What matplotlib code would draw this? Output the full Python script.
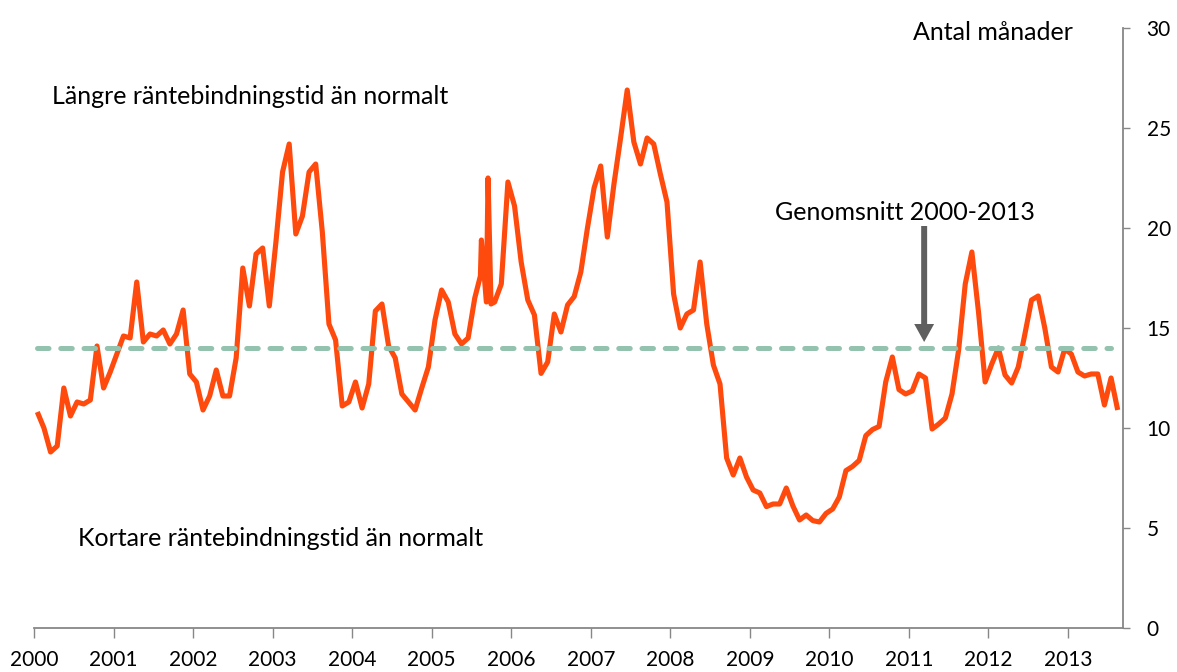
import numpy as np
import matplotlib
matplotlib.use('Agg')
import matplotlib.pyplot as plt
from matplotlib.patches import FancyArrow

plt.rcParams['font.family'] = ['Lato', 'DejaVu Sans']

# ---- data -------------------------------------------------------------
years = [str(y) for y in range(2000, 2014)]
# monthly values, Jan 2000 - Aug 2013 (antal månader)
values = [
    10.8, 10.0, 8.8, 9.1, 12.0, 10.6, 11.3, 11.2, 11.4, 14.1, 12.0, 12.8,      # 2000
    13.7, 14.6, 14.5, 17.3, 14.3, 14.7, 14.6, 14.9, 14.2, 14.7, 15.9, 12.7,    # 2001
    12.3, 10.9, 11.6, 12.9, 11.6, 11.6, 13.5, 18.0, 16.1, 18.7, 19.0, 16.1,    # 2002
    19.3, 22.8, 24.2, 19.7, 20.6, 22.8, 23.2, 19.8, 15.2, 14.4, 11.1, 11.3,    # 2003
    12.3, 11.0, 12.2, 15.85, 16.2, 14.1, 13.5, 11.7, 11.3, 10.9, 12.0, 13.05,  # 2004
    15.4, 16.9, 16.3, 14.7, 14.2, 14.5, 16.5, 19.4, 22.5, 16.3, 17.2, 22.3,    # 2005
    21.1, 18.3, 16.4, 15.65, 12.73, 13.3, 15.7, 14.8, 16.15, 16.57, 17.8, 20.0,  # 2006
    22.0, 23.1, 19.55, 22.2, 24.5, 26.9, 24.3, 23.2, 24.5, 24.2, 22.7, 21.3,   # 2007
    16.7, 15.0, 15.7, 15.9, 18.3, 15.2, 13.15, 12.2, 8.5, 7.65, 8.5, 7.55,     # 2008
    6.9, 6.75, 6.07, 6.2, 6.2, 7.0, 6.1, 5.4, 5.65, 5.37, 5.3, 5.73,           # 2009
    5.95, 6.55, 7.87, 8.08, 8.38, 9.62, 9.92, 10.08, 12.3, 13.55, 11.92, 11.7, # 2010
    11.85, 12.7, 12.5, 9.95, 10.2, 10.5, 11.7, 13.9, 17.2, 18.8, 15.8, 12.3,   # 2011
    13.2, 14.0, 12.65, 12.25, 13.05, 14.7, 16.4, 16.6, 15.0, 13.05, 12.8, 13.95,  # 2012
    13.7, 12.8, 12.6, 12.7, 12.7, 11.15, 12.5, 10.9,                           # 2013
]
# a few extra (intra-month) observations in 2005
extra_months = [66.85, 67.75, 68.45]
extra_values = [17.6, 16.3, 16.2]
average = 14.0
y_ticks = [0, 5, 10, 15, 20, 25, 30]

# ---- figure -----------------------------------------------------------
W, H = 1177, 672
fig = plt.figure(figsize=(W / 100, H / 100), dpi=100)
ax = fig.add_axes([34 / W, 44 / H, (1123 - 34) / W, 600 / H])


def fx(px):
    return px / W


def fy(py):
    return 1 - py / H


months = np.arange(len(values), dtype=float)
xs = np.concatenate([months, np.array(extra_months)])
ys = np.concatenate([np.array(values), np.array(extra_values)])
order = np.argsort(xs)
xs = xs[order] + 0.5
ys = ys[order]

ax.plot(xs, ys, color='#FF4A0D', lw=3.7, solid_joinstyle='round',
        solid_capstyle='butt', zorder=3)
ax.plot([months[0] + 0.5, months[-2] + 0.5], [average, average],
        color='#93C3AE', lw=3.6, linestyle=(0, (2.3, 2.35)),
        dash_capstyle='round', zorder=4)

ax.set_xlim(0, 164.3)
ax.set_ylim(0, 30)

ax.set_xticks(np.arange(len(years)) * 12)
ax.set_xticklabels(years)
ax.set_yticks(y_ticks)
ax.set_yticklabels([str(t) for t in y_ticks])

ax.yaxis.tick_right()
for s in ['left', 'top']:
    ax.spines[s].set_visible(False)
for s in ['right', 'bottom']:
    ax.spines[s].set_color('#878787')
    ax.spines[s].set_linewidth(1.3)
ax.tick_params(axis='x', direction='out', length=7.5, width=1.0,
               color='#878787', labelsize=15, pad=8, labelcolor='black')
ax.tick_params(axis='y', direction='out', length=5, width=1.0,
               color='#878787', labelsize=15, pad=12, labelcolor='black')
ax.set_facecolor('none')

# arrow
ax.add_patch(FancyArrow(134.3, 20.1, 0, -5.8, width=0.9, head_width=3.0,
                        head_length=0.9, length_includes_head=True,
                        color='#5F5F5F', zorder=5, lw=0))

# texts
fs = 18
fig.text(fx(52), fy(104), 'Längre räntebindningstid än normalt',
         fontsize=fs, ha='left', va='baseline')
fig.text(fx(78), fy(546), 'Kortare räntebindningstid än normalt',
         fontsize=fs, ha='left', va='baseline')
fig.text(fx(775), fy(220), 'Genomsnitt 2000-2013',
         fontsize=fs, ha='left', va='baseline')
fig.text(fx(913), fy(40), 'Antal månader',
         fontsize=fs, ha='left', va='baseline')

fig.savefig('out.png', dpi=100)
